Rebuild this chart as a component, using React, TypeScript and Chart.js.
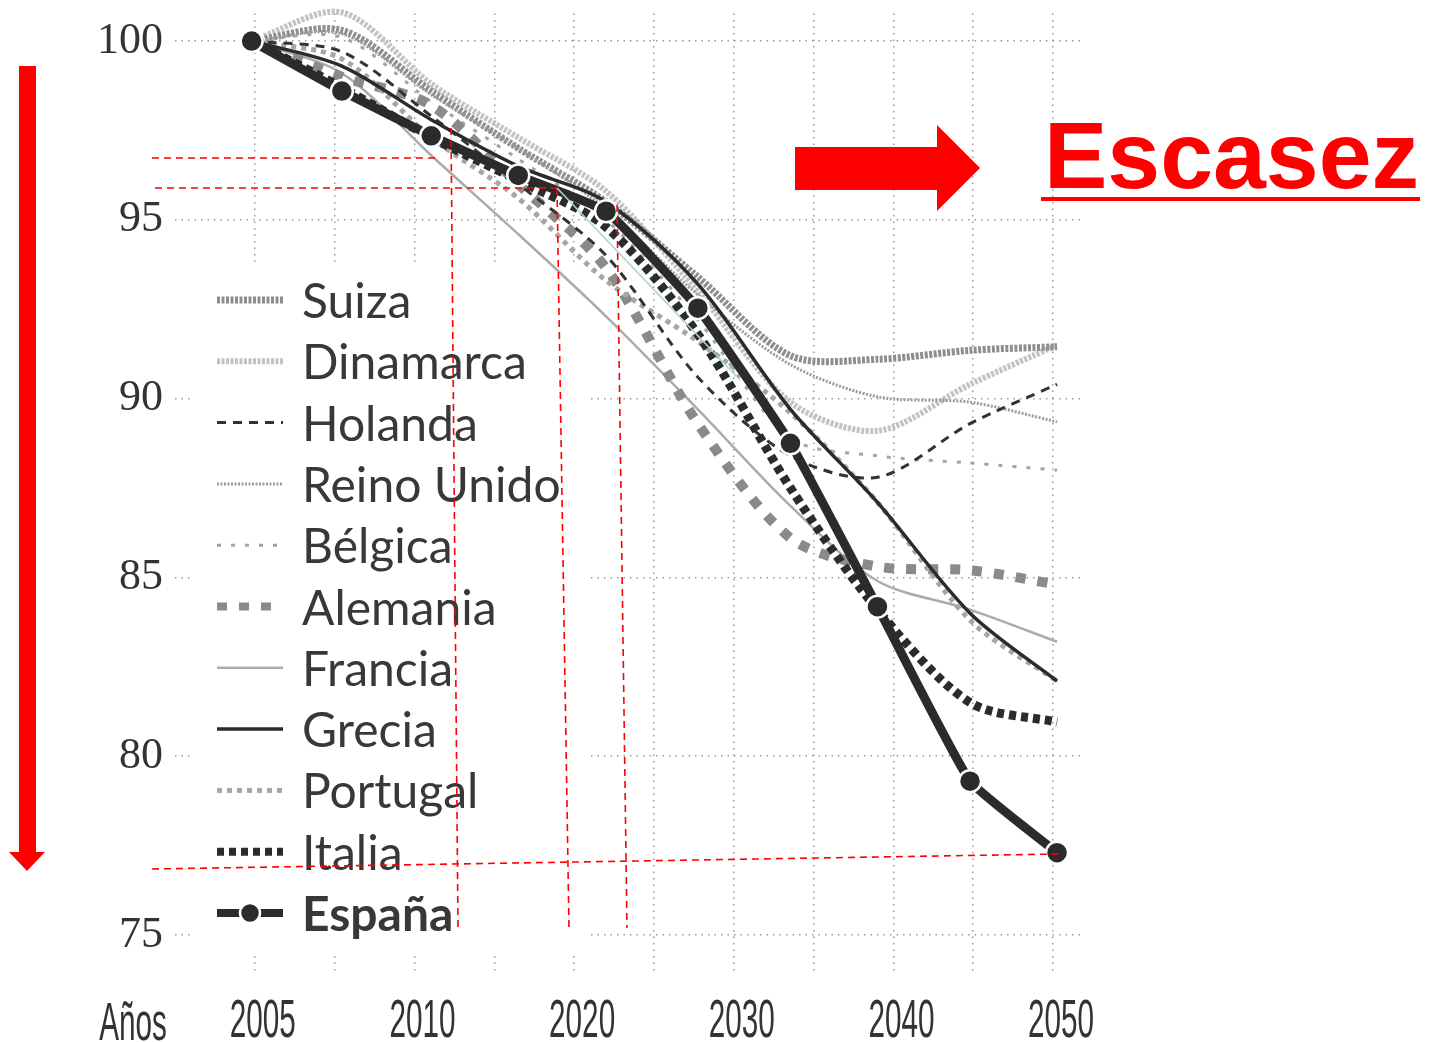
import React, { useEffect, useRef } from 'react';
import { Chart, registerables } from 'chart.js';

Chart.register(...registerables);

// ---------- data ----------
const X_POSITIONS = [-0.04, 1.09, 2.21, 3.3, 4.4, 5.55, 6.71, 7.8, 8.96, 10.05];
const X_TICK_POSITIONS = [0, 2, 4, 6, 8, 10];
const X_TICK_LABELS = ['2005', '2010', '2020', '2030', '2040', '2050'];
const X_GRID = [0, 1, 2, 3, 4, 5, 6, 7, 8, 9, 10];
const Y_TICKS = [75, 80, 85, 90, 95, 100];
const X_TITLE = 'Años';
const ANNOTATION_TEXT = 'Escasez';

const SERIES_NAMES = ['Suiza', 'Dinamarca', 'Holanda', 'Reino Unido', 'Bélgica', 'Alemania', 'Francia', 'Grecia', 'Portugal', 'Italia', 'España'];

const SUIZA = [100, 100.3, 98.6, 97.0, 95.5, 93.4, 91.2, 91.1, 91.35, 91.45];
const DINAMARCA = [100, 100.8, 98.8, 97.3, 95.8, 93.0, 89.9, 89.1, 90.4, 91.5];
const HOLANDA = [100, 99.7, 97.9, 96.0, 94.0, 90.6, 88.4, 87.8, 89.3, 90.4];
const REINO_UNIDO = [100, 100.2, 98.5, 97.0, 95.3, 92.9, 90.95, 90.05, 89.9, 89.35];
const BELGICA = [100, 100.1, 98.3, 96.7, 95.0, 92.2, 88.9, 88.4, 88.2, 88.0];
const ALEMANIA = [100, 99.0, 98.2, 96.0, 93.65, 89.3, 86.1, 85.3, 85.2, 84.8];
const FRANCIA = [100, 99.1, 96.8, 94.6, 92.3, 89.7, 87.0, 84.9, 84.1, 83.2];
const GRECIA = [100, 99.3, 97.8, 96.5, 95.5, 93.2, 89.7, 87.1, 84.0, 82.1];
const PORTUGAL = [100, 99.5, 97.3, 95.6, 93.3, 91.6, 89.6, 87.1, 83.8, 82.1];
const ITALIA = [100, 98.7, 97.3, 96.1, 94.8, 91.8, 87.5, 84.1, 81.5, 80.95];
const ESPANA = [100, 98.6, 97.35, 96.24, 95.24, 92.53, 88.75, 84.18, 79.3, 77.3];

const SERIES_VALUES = [SUIZA, DINAMARCA, HOLANDA, REINO_UNIDO, BELGICA, ALEMANIA, FRANCIA, GRECIA, PORTUGAL, ITALIA, ESPANA];

// ---------- styles ----------
type Style = { color: string; width: number; dash: number[]; tension: number; points?: boolean; order: number; bold?: boolean };
const STYLES: Style[] = [
  { color: '#8e8e8e', width: 7, dash: [3, 1.5], tension: 0.3, order: 10 },
  { color: '#c2c2c2', width: 6, dash: [3, 1.5], tension: 0.3, order: 11 },
  { color: '#333333', width: 3, dash: [9, 7], tension: 0.3, order: 4 },
  { color: '#9c9c9c', width: 3, dash: [2, 1.5], tension: 0.3, order: 9 },
  { color: '#a4a4a4', width: 3, dash: [4, 10], tension: 0.3, order: 8 },
  { color: '#8a8a8a', width: 10, dash: [10, 12], tension: 0.3, order: 6 },
  { color: '#ababab', width: 2.5, dash: [], tension: 0.3, order: 7 },
  { color: '#2b2b2b', width: 3.5, dash: [], tension: 0.3, order: 2 },
  { color: '#a6a6a6', width: 5, dash: [5, 5], tension: 0.3, order: 5 },
  { color: '#2b2b2b', width: 9, dash: [7, 5], tension: 0.3, order: 1 },
  { color: '#2b2b2b', width: 9, dash: [], tension: 0.12, points: true, order: 0, bold: true },
];

const LEGEND_Y0 = 300;
const LEGEND_STEP = 61.3;

const decorPlugin = {
  id: 'decor',
  beforeDatasetsDraw(chart: any) {
    const ctx = chart.ctx;
    ctx.save();
    ctx.fillStyle = '#ffffff';
    ctx.fillRect(190, 262, 398, 694);
    ctx.restore();
  },
  afterDraw(chart: any) {
    const ctx: CanvasRenderingContext2D = chart.ctx;
    const xs = chart.scales.x;
    ctx.save();

    // x tick labels (condensed)
    ctx.fillStyle = '#333333';
    ctx.font = '54px "Liberation Sans", Arial, sans-serif';
    ctx.textAlign = 'center';
    ctx.textBaseline = 'alphabetic';
    X_TICK_POSITIONS.forEach((p, i) => {
      const px = xs.getPixelForValue(p) + 8;
      ctx.save();
      ctx.translate(px, 1037);
      ctx.scale(0.55, 1);
      ctx.fillText(X_TICK_LABELS[i], 0, 0);
      ctx.restore();
    });
    ctx.save();
    ctx.translate(133, 1040);
    ctx.scale(0.55, 1);
    ctx.fillText(X_TITLE, 0, 0);
    ctx.restore();

    // legend
    chart.data.datasets.forEach((ds: any, i: number) => {
      const yc = LEGEND_Y0 + i * LEGEND_STEP;
      const st = STYLES[i];
      ctx.save();
      ctx.strokeStyle = st.color;
      ctx.lineWidth = Math.min(st.width, 8);
      ctx.setLineDash(st.dash);
      ctx.beginPath();
      ctx.moveTo(217, yc);
      ctx.lineTo(283, yc);
      ctx.stroke();
      if (st.points) {
        ctx.setLineDash([]);
        ctx.fillStyle = st.color;
        ctx.strokeStyle = '#ffffff';
        ctx.lineWidth = 2.5;
        ctx.beginPath();
        ctx.arc(250, yc, 10, 0, Math.PI * 2);
        ctx.fill();
        ctx.stroke();
      }
      ctx.restore();
      ctx.fillStyle = '#383838';
      ctx.textAlign = 'left';
      ctx.font = (st.bold ? 'bold ' : '') + '48px Lato, "Noto Sans", sans-serif';
      ctx.fillText(ds.label, 302, yc + 18);
    });

    // red annotations
    ctx.fillStyle = '#ff0000';
    ctx.fillRect(19, 66, 17, 787);
    ctx.beginPath();
    ctx.moveTo(9, 852);
    ctx.lineTo(45, 852);
    ctx.lineTo(27, 871);
    ctx.closePath();
    ctx.fill();

    ctx.fillRect(795, 147, 143, 43);
    ctx.beginPath();
    ctx.moveTo(937, 125);
    ctx.lineTo(980, 168);
    ctx.lineTo(937, 211);
    ctx.closePath();
    ctx.fill();

    ctx.font = 'bold 95px "Liberation Sans", Arial, sans-serif';
    ctx.textAlign = 'left';
    ctx.fillText(ANNOTATION_TEXT, 1044, 188);
    ctx.fillRect(1041, 197, 379, 4);

    ctx.strokeStyle = '#ff0000';
    ctx.lineWidth = 1.6;
    ctx.setLineDash([7, 5]);
    const seg = (a: number, b: number, c: number, d: number) => {
      ctx.beginPath();
      ctx.moveTo(a, b);
      ctx.lineTo(c, d);
      ctx.stroke();
    };
    seg(152, 158, 440, 158);
    seg(155, 188, 557, 188);
    seg(451, 128, 458, 927);
    seg(557, 188, 569, 928);
    seg(617, 205, 627, 928);
    seg(152, 869, 1058, 854);

    ctx.setLineDash([]);
    ctx.strokeStyle = '#a8d4d4';
    ctx.lineWidth = 1.6;
    seg(557, 188, 740, 380);

    ctx.restore();
  },
};

export default function App() {
  const ref = useRef<HTMLCanvasElement | null>(null);

  useEffect(() => {
    if (!ref.current) return;
    const datasets = SERIES_NAMES.map((name, i) => {
      const st = STYLES[i];
      return {
        label: name,
        data: SERIES_VALUES[i].map((v, j) => ({ x: X_POSITIONS[j], y: v })),
        borderColor: st.color,
        backgroundColor: st.color,
        borderWidth: st.width,
        borderDash: st.dash,
        tension: st.tension,
        borderCapStyle: 'butt' as const,
        borderJoinStyle: 'round' as const,
        pointRadius: st.points ? 11 : 0,
        pointBackgroundColor: '#2b2b2b',
        pointBorderColor: '#ffffff',
        pointBorderWidth: 2.5,
        order: st.order,
        fill: false,
        clip: false as const,
      };
    });

    const chart = new Chart(ref.current, {
      type: 'line',
      data: { datasets },
      options: {
        animation: false,
        responsive: false,
        devicePixelRatio: 1,
        layout: { padding: { left: 0, top: 4, right: 356, bottom: 0 } },
        plugins: { legend: { display: false }, tooltip: { enabled: false } },
        scales: {
          x: {
            type: 'linear',
            min: -1,
            max: 10.4,
            afterBuildTicks: (scale: any) => {
              scale.ticks = X_GRID.map((v) => ({ value: v }));
            },
            afterFit: (scale: any) => {
              scale.height = 67;
              scale.paddingLeft = 0;
              scale.paddingRight = 0;
            },
            ticks: { display: false },
            grid: { color: '#9a9a9a', lineWidth: 1.5, drawTicks: false },
            border: { display: false, dash: [1.5, 5] },
          },
          y: {
            type: 'linear',
            min: 73.88,
            max: 100.77,
            afterBuildTicks: (scale: any) => {
              scale.ticks = Y_TICKS.map((v) => ({ value: v }));
            },
            afterFit: (scale: any) => {
              scale.width = 175;
              scale.paddingTop = 0;
              scale.paddingBottom = 0;
            },
            ticks: {
              color: '#333333',
              padding: 12,
              font: { family: '"Liberation Serif", "Times New Roman", serif', size: 44 },
              callback: (v: any) => String(v),
            },
            grid: { color: '#9a9a9a', lineWidth: 1.5, drawTicks: false },
            border: { display: false, dash: [1.5, 5] },
          },
        },
      },
      plugins: [decorPlugin],
    });
    return () => chart.destroy();
  }, []);

  return (
    <canvas
      ref={ref}
      width={1441}
      height={1042}
      style={{ position: 'absolute', left: 0, top: 0, width: 1441, height: 1042, background: '#fff' }}
    />
  );
}
